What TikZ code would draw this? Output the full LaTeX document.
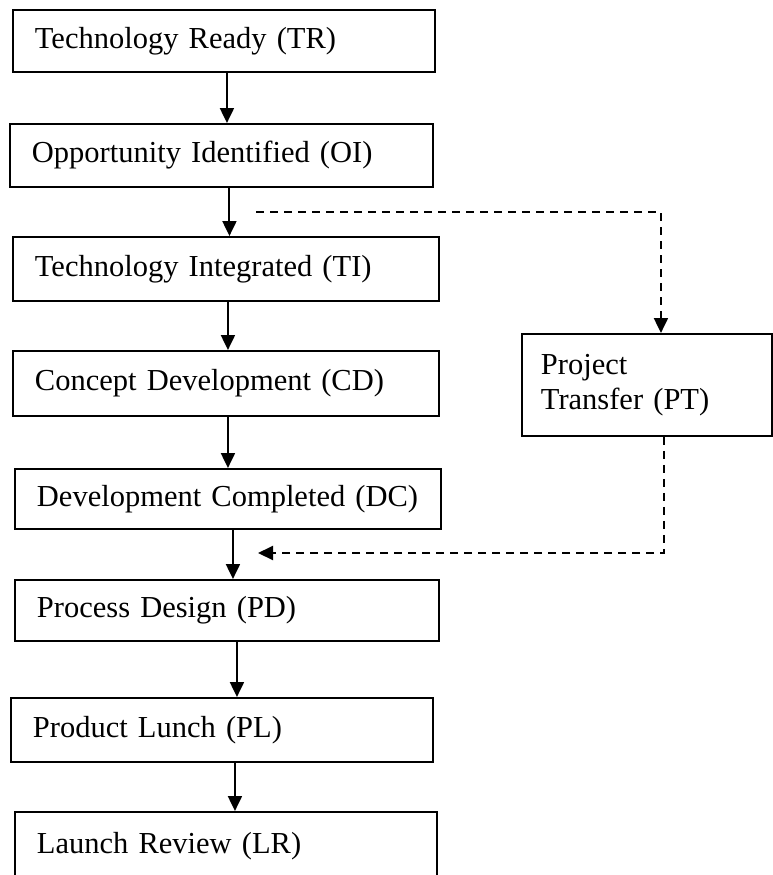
\documentclass[tikz,border=0pt]{standalone}
\usepackage{fontspec}
\setmainfont{Liberation Serif}
\usetikzlibrary{arrows.meta,positioning}
\tikzset{
  stage/.style={draw, line width=1.9pt, anchor=north west, inner xsep=22pt, inner ysep=0pt,
    align=left, font=\fontsize{30.5}{35}\selectfont},
  flow/.style={line width=2pt, -{Triangle[width=14pt,length=15pt]}},
  transfer/.style={flow, dash pattern=on 8pt off 6pt}
}
\begin{document}
\begin{tikzpicture}[x=1pt, y=-1pt]
             \useasboundingbox (0,0) rectangle (772,875);
             \node[stage, text width=378pt, minimum height=62pt] (TR) at (12,9) {Technology Ready (TR)};
             \node[stage, text width=379pt, minimum height=63pt] (OI) at (9,123) {Opportunity Identified (OI)};
             \node[stage, text width=382pt, minimum height=64pt] (TI) at (12,236) {Technology Integrated (TI)};
             \node[stage, text width=382pt, minimum height=65pt] (CD) at (12,350) {Concept Development (CD)};
             \node[stage, text width=382pt, minimum height=60pt] (DC) at (14,468) {Development Completed (DC)};
             \node[stage, text width=380pt, minimum height=61pt] (PD) at (14,579) {Process Design (PD)};
             \node[stage, text width=378pt, minimum height=64pt] (PL) at (10,697) {Product Lunch (PL)};
             \node[stage, text width=378pt, minimum height=68pt] (LR) at (14,811) {Launch Review (LR)};
             \node[stage, text width=212pt, minimum height=102pt, inner xsep=19pt, inner ysep=3pt] (PT) at (521,333) {Project\\Transfer (PT)};
             \coordinate (split) at (256,212);
             \coordinate (merge) at (258,553);
             \draw[flow] ([xshift=3pt]TR.south) -- ([xshift=3pt]TR.south |- OI.north);
             \draw[flow] ([xshift=8pt]OI.south) -- ([xshift=8pt]OI.south |- TI.north);
             \draw[flow] ([xshift=2pt]TI.south) -- ([xshift=2pt]TI.south |- CD.north);
             \draw[flow] ([xshift=2pt]CD.south) -- ([xshift=2pt]CD.south |- DC.north);
             \draw[flow] ([xshift=5pt]DC.south) -- ([xshift=5pt]DC.south |- PD.north);
             \draw[flow] ([xshift=10pt]PD.south) -- ([xshift=10pt]PD.south |- PL.north);
             \draw[flow] ([xshift=13pt]PL.south) -- ([xshift=13pt]PL.south |- LR.north);
             \draw[transfer] (split) -| ([xshift=14pt]PT.north);
             \draw[transfer] ([xshift=17pt]PT.south) |- (merge);
        \end{tikzpicture}
\end{document}
